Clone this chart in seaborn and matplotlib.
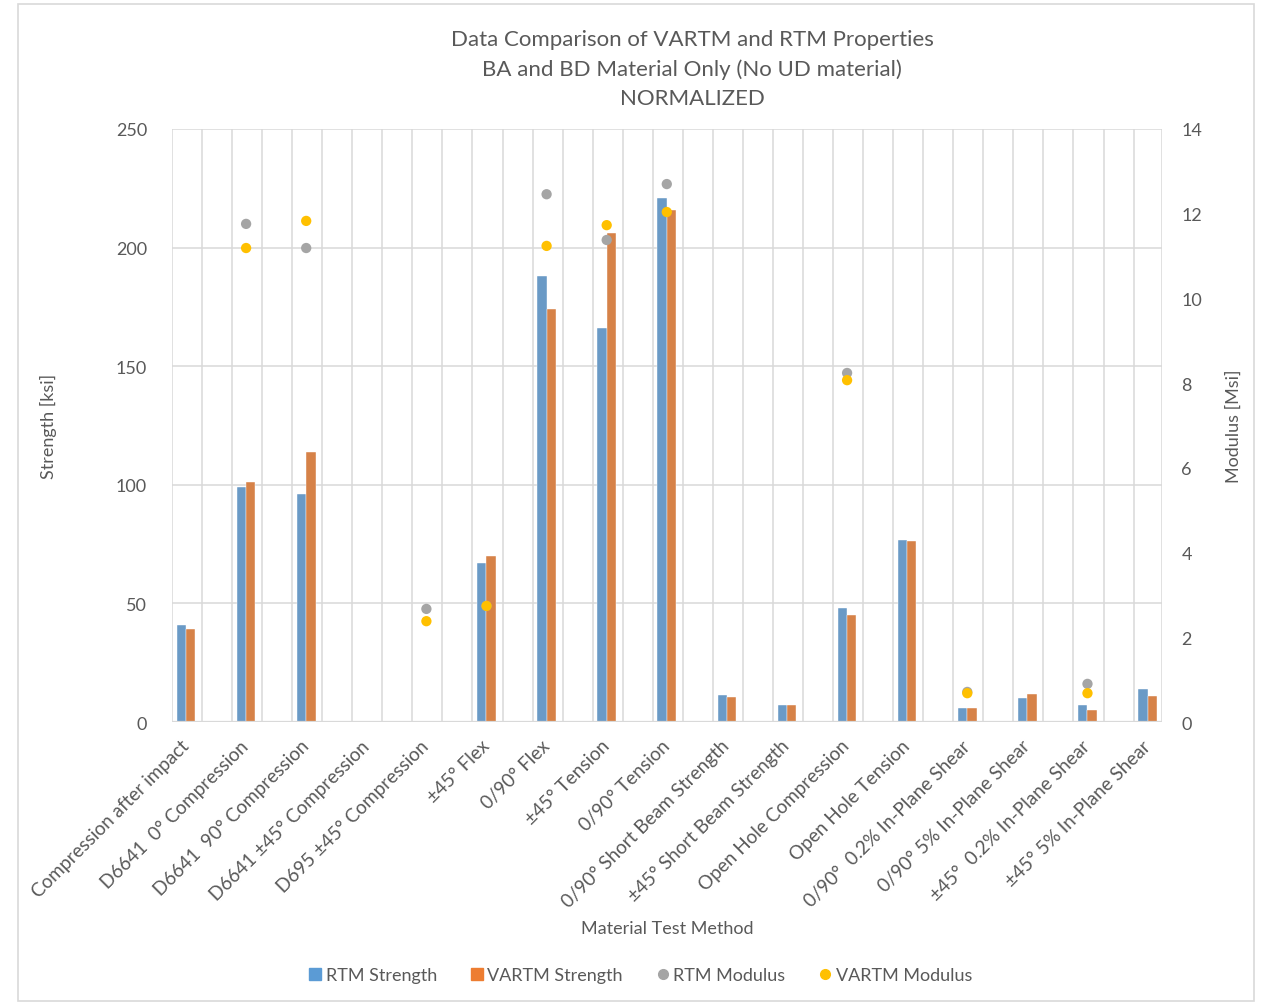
import numpy as np
import pandas as pd
import matplotlib
matplotlib.use("Agg")
import matplotlib.pyplot as plt
from matplotlib.lines import Line2D
from matplotlib.patches import Rectangle
import seaborn as sns

categories = [
    "Compression after impact",
    "D6641  0\u00b0 Compression",
    "D6641  90\u00b0 Compression",
    "D6641 \u00b145\u00b0 Compression",
    "D695 \u00b145\u00b0 Compression",
    "\u00b145\u00b0 Flex",
    "0/90\u00b0 Flex",
    "\u00b145\u00b0 Tension",
    "0/90\u00b0 Tension",
    "0/90\u00b0 Short Beam Strength",
    "\u00b145\u00b0 Short Beam Strength",
    "Open Hole Compression",
    "Open Hole Tension",
    "0/90\u00b0  0.2% In-Plane Shear",
    "0/90\u00b0 5% In-Plane Shear",
    "\u00b145\u00b0  0.2% In-Plane Shear",
    "\u00b145\u00b0 5% In-Plane Shear",
]
nan = np.nan
rtm_strength = [41, 99, 96, nan, nan, 67, 188, 166, 221, 11.5, 7, 48, 76.7, 6, 10, 7.2, 14]
vartm_strength = [39, 101, 114, nan, nan, 70, 174, 206, 216, 10.5, 7.3, 45, 76.3, 6, 12, 5, 11]
rtm_modulus = [nan, 11.76, 11.19, nan, 2.67, 2.74, 12.46, 11.38, 12.70, nan, nan, 8.24, nan, 0.71, nan, 0.90, nan]
vartm_modulus = [nan, 11.19, 11.83, nan, 2.38, 2.74, 11.24, 11.73, 12.04, nan, nan, 8.07, nan, 0.68, nan, 0.68, nan]

C_BLUE, C_ORANGE, C_GRAY, C_GOLD = "#5B9BD5", "#ED7D31", "#A5A5A5", "#FFC000"
TXT = "#595959"
GRID = "#D9D9D9"

sns.set_theme(style="white")
plt.rcParams["font.family"] = ["Lato", "DejaVu Sans"]

bars = pd.DataFrame({
    "Method": categories * 2,
    "Strength": rtm_strength + vartm_strength,
    "Series": ["RTM Strength"] * len(categories) + ["VARTM Strength"] * len(categories),
})
mods = pd.DataFrame({
    "pos": list(range(len(categories))) * 2,
    "Modulus": rtm_modulus + vartm_modulus,
    "Series": ["RTM Modulus"] * len(categories) + ["VARTM Modulus"] * len(categories),
})

fig = plt.figure(figsize=(12.61, 10.04), dpi=100)
ax = fig.add_axes([172 / 1261, 1 - 723 / 1004, 990 / 1261, 593 / 1004])

sns.barplot(data=bars, x="Method", y="Strength", hue="Series",
            palette=[C_BLUE, C_ORANGE], width=0.31, dodge=True,
            edgecolor="white", linewidth=0.3, ax=ax, legend=False, zorder=3)

n = len(categories)
x_lo, x_hi = -0.233, n - 0.76
ax.set_xlim(x_lo, x_hi)
ax.set_ylim(0, 250)
ax.set_yticks(np.arange(0, 251, 50))
for yv in np.arange(50, 251, 50):
    ax.axhline(yv, color=GRID, lw=1.1, zorder=0)
for xv in np.arange(x_lo, x_hi + 0.01, 0.5):
    ax.axvline(xv, color=GRID, lw=1.1, zorder=0)
ax.axvline(x_hi, color=GRID, lw=1.1, zorder=0)
for s in ax.spines.values():
    s.set_visible(False)
ax.axhline(0, color=GRID, lw=1.6, zorder=4)
ax.tick_params(axis="both", length=0, colors=TXT, labelsize=13)
ax.tick_params(axis="y", pad=18)
ax.set_xticks(range(n))
ax.set_xticklabels(categories, rotation=45, ha="right", va="center",
                   rotation_mode="anchor", fontsize=13.6, color=TXT)
ax.tick_params(axis="x", pad=15)
ax.set_xlabel("Material Test Method", fontsize=13, color=TXT, labelpad=0)
ax.xaxis.set_label_coords((667 - 172) / 990, -(921 - 723) / 593)
ax.set_ylabel("Strength [ksi]", fontsize=13, color=TXT)
ax.yaxis.set_label_coords(-(172 - 57) / 990, 0.5)

ax2 = ax.twinx()
sns.scatterplot(data=mods, x="pos", y="Modulus", hue="Series",
                palette=[C_GRAY, C_GOLD], s=55, edgecolor="none",
                ax=ax2, legend=False, zorder=5)
ax2.set_xlim(x_lo, x_hi)
ax2.set_ylim(0, 14)
ax2.set_yticks(np.arange(0, 15, 2))
for s in ax2.spines.values():
    s.set_visible(False)
ax2.tick_params(axis="y", length=0, colors=TXT, labelsize=13, pad=14)
ax2.set_ylabel("Modulus [Msi]", fontsize=13, color=TXT)
ax2.yaxis.set_label_coords(1 + (1226 - 1162) / 990, 0.5)

title_lines = ["Data Comparison of VARTM and RTM Properties",
               "BA and BD Material Only (No UD material)",
               "NORMALIZED"]
for i, line in enumerate(title_lines):
    fig.text(692 / 1261, 1 - (40 + 29.5 * i) / 1004, line, ha="center", va="center",
             fontsize=16, color=TXT)

handles = [
    Line2D([], [], marker="s", ls="none", color=C_BLUE, markersize=9),
    Line2D([], [], marker="s", ls="none", color=C_ORANGE, markersize=9),
    Line2D([], [], marker="o", ls="none", color=C_GRAY, markersize=7),
    Line2D([], [], marker="o", ls="none", color=C_GOLD, markersize=7),
]
labels = ["RTM Strength", "VARTM Strength", "RTM Modulus", "VARTM Modulus"]
fig.legend(handles, labels, loc="center", ncol=4, frameon=False,
           bbox_to_anchor=(640 / 1261, 1 - 976 / 1004), fontsize=13,
           labelcolor=TXT, handletextpad=0.2, columnspacing=1.8, handlelength=0.8)

fig.patches.append(Rectangle((18 / 1261, 0.002), 1236 / 1261, 0.993,
                             transform=fig.transFigure, fill=False,
                             edgecolor=GRID, lw=1.2))

fig.savefig("out.png", dpi=100, facecolor="white")
